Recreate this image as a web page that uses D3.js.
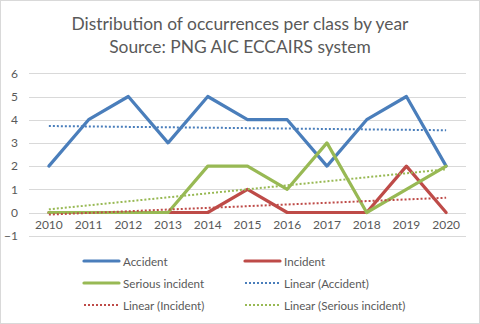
<!DOCTYPE html>
<html>
<head>
<meta charset="utf-8">
<script src="https://cdn.jsdelivr.net/npm/d3@7"></script>
<style>
  html, body { margin: 0; padding: 0; background: #fff; }
  svg { display: block; }
  text { font-family: Lato, "Open Sans", sans-serif; fill: #595959; }
</style>
</head>
<body>
<svg id="chart" width="480" height="324"></svg>
<script>
// Occurrence counts per year, by class
const years = ["2010","2011","2012","2013","2014","2015","2016","2017","2018","2019","2020"];
const accident = [2, 4, 5, 3, 5, 4, 4, 2, 4, 5, 2];
const incident = [0, 0, 0, 0, 0, 1, 0, 0, 0, 2, 0];
const seriousIncident = [0, 0, 0, 0, 2, 2, 1, 3, 0, 1, 2];
const yTicks = [-1, 0, 1, 2, 3, 4, 5, 6];
const titleLines = ["Distribution of occurrences per class by year", "Source: PNG AIC ECCAIRS system"];

const series = [
  { name: "Accident", values: accident, color: "#4A7EBB" },
  { name: "Incident", values: incident, color: "#BE4B48" },
  { name: "Serious incident", values: seriousIncident, color: "#98B954" }
];

// Least-squares linear fit over the year index
function linearFit(vals) {
  const n = vals.length;
  const xm = (n - 1) / 2;
  const ym = d3.mean(vals);
  let sxy = 0, sxx = 0;
  vals.forEach((v, i) => { sxy += (i - xm) * (v - ym); sxx += (i - xm) * (i - xm); });
  const slope = sxy / sxx;
  return vals.map((_, i) => ym + slope * (i - xm));
}

const svg = d3.select("#chart");
const W = 480, H = 324;

// Chart border
svg.append("rect").attr("x", 0.5).attr("y", 0.5).attr("width", W - 1).attr("height", H - 1)
  .attr("fill", "#fff").attr("stroke", "#d9d9d9");

// Title
const title = svg.append("text").attr("text-anchor", "middle").attr("font-size", 17.4);
titleLines.forEach((t, i) => {
  title.append("tspan").attr("x", W / 2).attr("y", 29.5 + i * 23).text(t);
});

const plotLeft = 29, plotRight = 466;
const x = d3.scaleBand().domain(years).range([plotLeft, plotRight]);
const xc = d => x(d) + x.bandwidth() / 2;
const y = d3.scaleLinear().domain([-1, 6]).range([235.7, 73.3]);

// Horizontal gridlines
svg.append("g").selectAll("line").data(yTicks).join("line")
  .attr("x1", plotLeft).attr("x2", plotRight)
  .attr("y1", d => Math.round(y(d)) + 0.5).attr("y2", d => Math.round(y(d)) + 0.5)
  .attr("stroke", "#d9d9d9").attr("stroke-width", 1);

// Y axis labels
const yAxis = d3.axisLeft(y).tickValues(yTicks).tickSize(0).tickPadding(0).tickFormat(d3.format("d"));
svg.append("g").attr("transform", `translate(${plotLeft - 11},0)`).call(yAxis)
  .call(g => g.select(".domain").remove())
  .call(g => g.selectAll("text").attr("font-size", 12).attr("fill", "#595959")
    .style("font-family", "Lato, 'Open Sans', sans-serif"));

// X axis labels sit at the zero crossing
const xAxis = d3.axisBottom(x).tickSize(0).tickPadding(0);
svg.append("g").attr("transform", `translate(0,${y(0) + 8})`).call(xAxis)
  .call(g => g.select(".domain").remove())
  .call(g => g.selectAll("text").attr("font-size", 12).attr("fill", "#595959")
    .style("font-family", "Lato, 'Open Sans', sans-serif"));

const line = d3.line().x((d, i) => xc(years[i])).y(d => y(d));

// Series lines
svg.append("g").selectAll("path").data(series).join("path")
  .attr("d", d => line(d.values))
  .attr("fill", "none").attr("stroke", d => d.color)
  .attr("stroke-width", 3.2).attr("stroke-linejoin", "round").attr("stroke-linecap", "round");

// Linear trend lines
svg.append("g").selectAll("path").data(series).join("path")
  .attr("d", d => line(linearFit(d.values)))
  .attr("fill", "none").attr("stroke", d => d.color)
  .attr("stroke-width", 2).attr("stroke-dasharray", "2,2");

// Legend
const legendItems = [
  { label: "Accident", color: "#4A7EBB", dotted: false },
  { label: "Incident", color: "#BE4B48", dotted: false },
  { label: "Serious incident", color: "#98B954", dotted: false },
  { label: "Linear (Accident)", color: "#4A7EBB", dotted: true },
  { label: "Linear (Incident)", color: "#BE4B48", dotted: true },
  { label: "Linear (Serious incident)", color: "#98B954", dotted: true }
];
const colX = [84, 245], rowY = [261, 283, 305];
const lg = svg.append("g").selectAll("g").data(legendItems).join("g")
  .attr("transform", (d, i) => `translate(${colX[i % 2]},${rowY[Math.floor(i / 2)]})`);
lg.append("line").attr("x1", 0).attr("x2", 35).attr("y1", 0).attr("y2", 0)
  .attr("stroke", d => d.color)
  .attr("stroke-width", d => d.dotted ? 2 : 3.2)
  .attr("stroke-dasharray", d => d.dotted ? "2,2" : null)
  .attr("stroke-linecap", d => d.dotted ? "butt" : "round");
lg.append("text").attr("x", 39).attr("y", 4.5).attr("font-size", 11.6).text(d => d.label);
</script>
</body>
</html>
